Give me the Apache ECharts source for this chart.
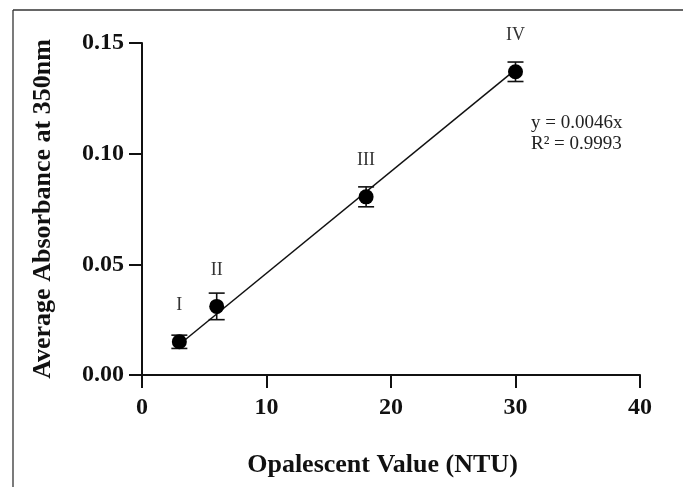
<!DOCTYPE html>
<html>
<head>
<meta charset="utf-8">
<script src="https://cdn.jsdelivr.net/npm/echarts@6/dist/echarts.min.js"></script>
<style>
  html, body { margin: 0; padding: 0; background: #fff; }
  #chart { width: 683px; height: 487px; }
</style>
</head>
<body>
<div id="chart"></div>
<script>
// Opalescence standards: turbidity (NTU) vs mean absorbance at 350 nm
const ntu = [3, 6, 18, 30];
const absorbance = [0.015, 0.031, 0.0805, 0.137];
const absErr = [0.003, 0.006, 0.0045, 0.0044];
const standardNames = ['I', 'II', 'III', 'IV'];

// Linear fit through origin
const fitSlope = 0.0046;
const fitRange = [3, 30];
const fitText = ['y = 0.0046x', 'R\u00B2 = 0.9993'];

const xTicks = { min: 0, max: 40, interval: 10 };
const yTicks = { min: 0, max: 0.15, interval: 0.05 };

const serif = '"Liberation Serif", "Times New Roman", serif';

const points = ntu.map((x, i) => ({ value: [x, absorbance[i]], name: standardNames[i] }));
const errData = ntu.map((x, i) => [x, absorbance[i] - absErr[i], absorbance[i] + absErr[i]]);
const fitLine = fitRange.map(x => [x, fitSlope * x]);

const chart = echarts.init(document.getElementById('chart'));
chart.setOption({
  backgroundColor: '#fff',
  animation: false,
  grid: { left: 142, right: 43, top: 43, bottom: 112, containLabel: false },
  xAxis: {
    type: 'value',
    min: xTicks.min, max: xTicks.max, interval: xTicks.interval,
    name: 'Opalescent Value (NTU)',
    nameLocation: 'middle',
    nameGap: 77,
    nameTextStyle: {
      fontFamily: serif, fontWeight: 'bold', fontSize: 26, color: '#111',
      padding: [0, 17, 0, 0]
    },
    axisLine: { lineStyle: { color: '#111', width: 2 } },
    axisTick: { length: 13, lineStyle: { color: '#111', width: 2 } },
    axisLabel: { fontFamily: serif, fontWeight: 'bold', fontSize: 24, color: '#111', margin: 21 },
    splitLine: { show: false }
  },
  yAxis: {
    type: 'value',
    min: yTicks.min, max: yTicks.max, interval: yTicks.interval,
    name: 'Average Absorbance at 350nm',
    nameLocation: 'middle',
    nameGap: 86,
    nameTextStyle: { fontFamily: serif, fontWeight: 'bold', fontSize: 26, color: '#111' },
    axisLine: { show: true, lineStyle: { color: '#111', width: 2 } },
    axisTick: { show: true, length: 13, lineStyle: { color: '#111', width: 2 } },
    axisLabel: {
      fontFamily: serif, fontWeight: 'bold', fontSize: 24, color: '#111', margin: 18,
      formatter: v => v.toFixed(2)
    },
    splitLine: { show: false }
  },
  series: [
    {
      type: 'line',
      data: fitLine,
      symbol: 'none',
      lineStyle: { color: '#111', width: 1.5 },
      z: 2
    },
    {
      type: 'custom',
      data: errData,
      z: 3,
      renderItem: (params, api) => {
        const lo = api.coord([api.value(0), api.value(1)]);
        const hi = api.coord([api.value(0), api.value(2)]);
        const half = 8;
        const style = { stroke: '#111', lineWidth: 1.6 };
        return {
          type: 'group',
          children: [
            { type: 'line', shape: { x1: lo[0], y1: lo[1], x2: hi[0], y2: hi[1] }, style },
            { type: 'line', shape: { x1: lo[0] - half, y1: lo[1], x2: lo[0] + half, y2: lo[1] }, style },
            { type: 'line', shape: { x1: hi[0] - half, y1: hi[1], x2: hi[0] + half, y2: hi[1] }, style }
          ]
        };
      }
    },
    {
      type: 'scatter',
      data: points,
      symbol: 'circle',
      symbolSize: 15,
      itemStyle: { color: '#000', opacity: 1 },
      z: 4,
      label: {
        show: true,
        position: 'top',
        distance: 20,
        formatter: p => p.name,
        fontFamily: serif,
        fontSize: 18,
        color: '#333'
      }
    }
  ],
  graphic: [
    {
      type: 'line',
      shape: { x1: 13, y1: 10, x2: 683, y2: 10 },
      style: { stroke: '#333', lineWidth: 1.3 }
    },
    {
      type: 'line',
      shape: { x1: 13, y1: 10, x2: 13, y2: 487 },
      style: { stroke: '#333', lineWidth: 1.3 }
    },
    {
      type: 'text',
      left: 531, top: 113,
      style: {
        text: fitText.join('\n'),
        font: '19px ' + serif,
        lineHeight: 21,
        fill: '#222'
      }
    }
  ]
});
</script>
</body>
</html>
